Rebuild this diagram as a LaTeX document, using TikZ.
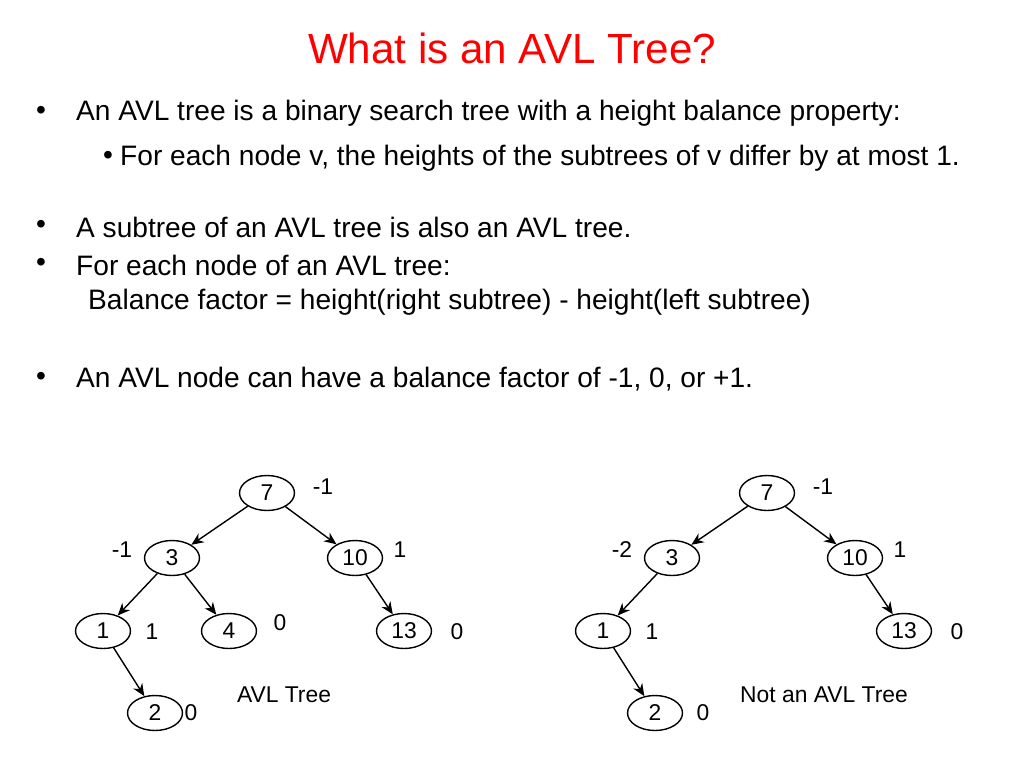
\documentclass[tikz,border=0pt]{standalone}
\usepackage{fontspec}
\setmainfont{Liberation Sans}
\usetikzlibrary{shapes.geometric,arrows.meta}
\begin{document}
\begin{tikzpicture}[x=0.02cm,y=-0.02cm,
 tn/.style={ellipse,draw,thick,minimum width=1.1cm,minimum height=0.7cm,inner sep=0pt,font=\fontsize{13}{15}\selectfont},
 lab/.style={font=\fontsize{13}{15}\selectfont},
 body/.style={anchor=west,font=\fontsize{16}{19}\selectfont},
 ed/.style={thick,-{Stealth[length=7pt,width=6pt]}}]
\useasboundingbox (0,0) rectangle (1024,768);
\node[font=\fontsize{24}{28}\selectfont,text=red] (title) at (512,48) {What is an AVL Tree?};
\node[body] (b1) at (30,113) {•};
\node[body] (t1) at (70,113) {An AVL tree is a binary search tree with a height balance property:};
\node[body] (b2) at (97,158) {•};
\node[body] (t2) at (114,158) {For each node v, the heights of the subtrees of v differ by at most 1.};
\node[body] (b3) at (30,227) {•};
\node[body] (t3) at (70,227) {A subtree of an AVL tree is also an AVL tree.};
\node[body] (b4) at (30,265) {•};
\node[body] (t4) at (70,265) {For each node of an AVL tree:};
\node[body] (t5) at (82,302) {Balance factor = height(right subtree) - height(left subtree)};
\node[body] (b6) at (30,379) {•};
\node[body] (t6) at (70,379) {An AVL node can have a balance factor of -1, 0, or +1.};
% left tree
\node[tn] (a7) at (267,493) {7};
\node[tn] (a3) at (172,558) {3};
\node[tn] (a10) at (355,558) {10};
\node[tn] (a1) at (103,631) {1};
\node[tn] (a4) at (229,631) {4};
\node[tn] (a13) at (404,631) {13};
\node[tn] (a2) at (155,713) {2};
\draw[ed] (a7) -- (a3); \draw[ed] (a7) -- (a10);
\draw[ed] (a3) -- (a1); \draw[ed] (a3) -- (a4);
\draw[ed] (a10) -- (a13); \draw[ed] (a1) -- (a2);
\node[lab] (la1) at (323,487) {-1};
\node[lab] (la2) at (122,550) {-1};
\node[lab] (la3) at (400,550) {1};
\node[lab] (la4) at (152,632) {1};
\node[lab] (la5) at (280,623) {0};
\node[lab] (la6) at (457,632) {0};
\node[lab] (la7) at (191,713) {0};
\node[lab] (ca) at (284,695) {AVL Tree};
% right tree
\node[tn] (b7) at (767,493) {7};
\node[tn] (b3) at (672,558) {3};
\node[tn] (b10) at (855,558) {10};
\node[tn] (b1n) at (603,631) {1};
\node[tn] (b13) at (904,631) {13};
\node[tn] (b2n) at (655,713) {2};
\draw[ed] (b7) -- (b3); \draw[ed] (b7) -- (b10);
\draw[ed] (b3) -- (b1n);
\draw[ed] (b10) -- (b13); \draw[ed] (b1n) -- (b2n);
\node[lab] (lb1) at (823,487) {-1};
\node[lab] (lb2) at (622,550) {-2};
\node[lab] (lb3) at (900,550) {1};
\node[lab] (lb4) at (652,632) {1};
\node[lab] (lb6) at (957,632) {0};
\node[lab] (lb7) at (703,713) {0};
\node[lab] (cb) at (824,695) {Not an AVL Tree};
\end{tikzpicture}
\end{document}
